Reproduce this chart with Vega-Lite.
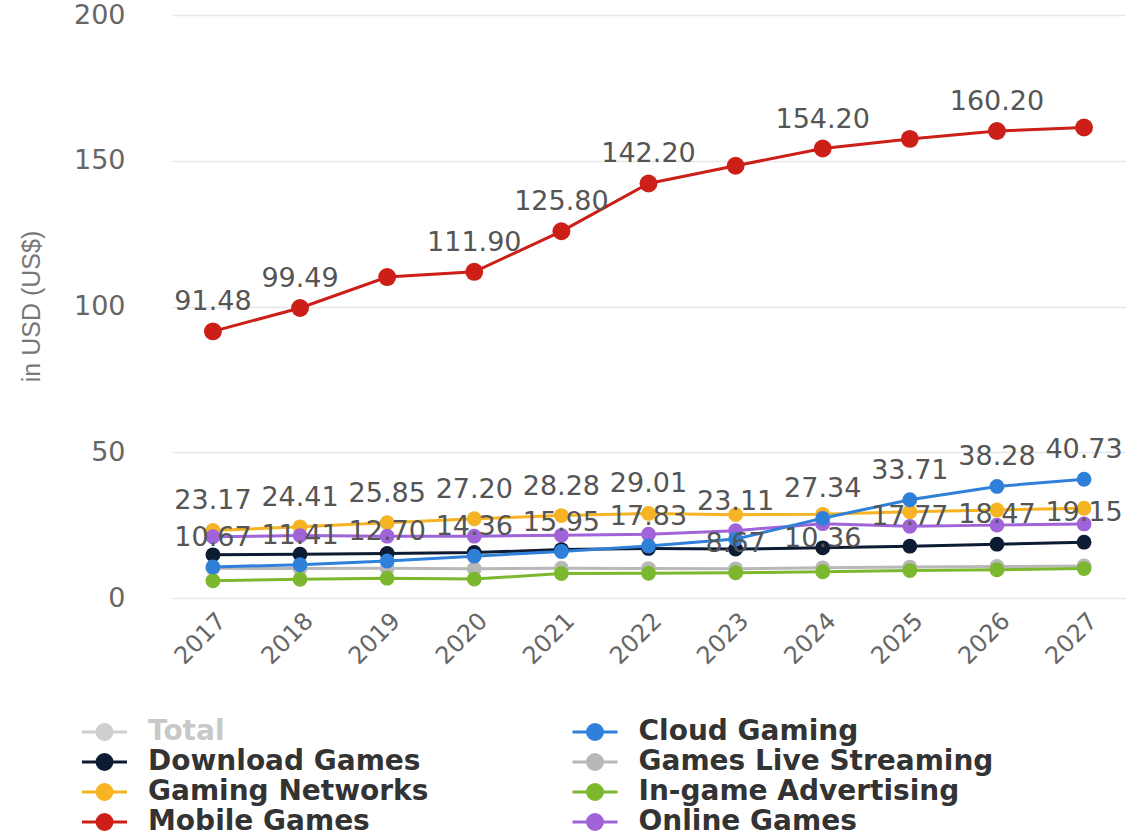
{
  "$schema": "https://vega.github.io/schema/vega-lite/v6.json",
  "width": 953,
  "height": 583,
  "autosize": "none",
  "padding": {"left": 172, "top": 15, "right": 6, "bottom": 241},
  "background": "white",
  "config": {"view": {"stroke": null}, "font": "DejaVu Sans"},
  "data": {"values": [
    {"series": "Mobile Games", "year": 2017, "value": 91.48, "labeled": true},
    {"series": "Mobile Games", "year": 2018, "value": 99.49, "labeled": true},
    {"series": "Mobile Games", "year": 2019, "value": 110.1, "labeled": false},
    {"series": "Mobile Games", "year": 2020, "value": 111.9, "labeled": true},
    {"series": "Mobile Games", "year": 2021, "value": 125.8, "labeled": true},
    {"series": "Mobile Games", "year": 2022, "value": 142.2, "labeled": true},
    {"series": "Mobile Games", "year": 2023, "value": 148.3, "labeled": false},
    {"series": "Mobile Games", "year": 2024, "value": 154.2, "labeled": true},
    {"series": "Mobile Games", "year": 2025, "value": 157.5, "labeled": false},
    {"series": "Mobile Games", "year": 2026, "value": 160.2, "labeled": true},
    {"series": "Mobile Games", "year": 2027, "value": 161.4, "labeled": false},

    {"series": "Gaming Networks", "year": 2017, "value": 23.17, "labeled": true},
    {"series": "Gaming Networks", "year": 2018, "value": 24.41, "labeled": true},
    {"series": "Gaming Networks", "year": 2019, "value": 25.85, "labeled": true},
    {"series": "Gaming Networks", "year": 2020, "value": 27.2, "labeled": true},
    {"series": "Gaming Networks", "year": 2021, "value": 28.28, "labeled": true},
    {"series": "Gaming Networks", "year": 2022, "value": 29.01, "labeled": true},
    {"series": "Gaming Networks", "year": 2023, "value": 28.6, "labeled": false},
    {"series": "Gaming Networks", "year": 2024, "value": 28.7, "labeled": false},
    {"series": "Gaming Networks", "year": 2025, "value": 29.6, "labeled": false},
    {"series": "Gaming Networks", "year": 2026, "value": 30.2, "labeled": false},
    {"series": "Gaming Networks", "year": 2027, "value": 30.8, "labeled": false},

    {"series": "Online Games", "year": 2017, "value": 21.0, "labeled": false},
    {"series": "Online Games", "year": 2018, "value": 21.4, "labeled": false},
    {"series": "Online Games", "year": 2019, "value": 21.2, "labeled": false},
    {"series": "Online Games", "year": 2020, "value": 21.2, "labeled": false},
    {"series": "Online Games", "year": 2021, "value": 21.5, "labeled": false},
    {"series": "Online Games", "year": 2022, "value": 21.9, "labeled": false},
    {"series": "Online Games", "year": 2023, "value": 23.11, "labeled": true},
    {"series": "Online Games", "year": 2024, "value": 25.5, "labeled": false},
    {"series": "Online Games", "year": 2025, "value": 24.6, "labeled": false},
    {"series": "Online Games", "year": 2026, "value": 25.0, "labeled": false},
    {"series": "Online Games", "year": 2027, "value": 25.4, "labeled": false},

    {"series": "Download Games", "year": 2017, "value": 14.8, "labeled": false},
    {"series": "Download Games", "year": 2018, "value": 15.0, "labeled": false},
    {"series": "Download Games", "year": 2019, "value": 15.3, "labeled": false},
    {"series": "Download Games", "year": 2020, "value": 15.6, "labeled": false},
    {"series": "Download Games", "year": 2021, "value": 16.6, "labeled": false},
    {"series": "Download Games", "year": 2022, "value": 17.0, "labeled": false},
    {"series": "Download Games", "year": 2023, "value": 16.8, "labeled": false},
    {"series": "Download Games", "year": 2024, "value": 17.2, "labeled": false},
    {"series": "Download Games", "year": 2025, "value": 17.77, "labeled": true},
    {"series": "Download Games", "year": 2026, "value": 18.47, "labeled": true},
    {"series": "Download Games", "year": 2027, "value": 19.15, "labeled": true},

    {"series": "Games Live Streaming", "year": 2017, "value": 10.2, "labeled": false},
    {"series": "Games Live Streaming", "year": 2018, "value": 10.1, "labeled": false},
    {"series": "Games Live Streaming", "year": 2019, "value": 10.2, "labeled": false},
    {"series": "Games Live Streaming", "year": 2020, "value": 10.0, "labeled": false},
    {"series": "Games Live Streaming", "year": 2021, "value": 10.2, "labeled": false},
    {"series": "Games Live Streaming", "year": 2022, "value": 10.1, "labeled": false},
    {"series": "Games Live Streaming", "year": 2023, "value": 10.0, "labeled": false},
    {"series": "Games Live Streaming", "year": 2024, "value": 10.36, "labeled": true},
    {"series": "Games Live Streaming", "year": 2025, "value": 10.6, "labeled": false},
    {"series": "Games Live Streaming", "year": 2026, "value": 10.8, "labeled": false},
    {"series": "Games Live Streaming", "year": 2027, "value": 11.0, "labeled": false},

    {"series": "In-game Advertising", "year": 2017, "value": 5.9, "labeled": false},
    {"series": "In-game Advertising", "year": 2018, "value": 6.4, "labeled": false},
    {"series": "In-game Advertising", "year": 2019, "value": 6.8, "labeled": false},
    {"series": "In-game Advertising", "year": 2020, "value": 6.5, "labeled": false},
    {"series": "In-game Advertising", "year": 2021, "value": 8.4, "labeled": false},
    {"series": "In-game Advertising", "year": 2022, "value": 8.5, "labeled": false},
    {"series": "In-game Advertising", "year": 2023, "value": 8.67, "labeled": true},
    {"series": "In-game Advertising", "year": 2024, "value": 9.0, "labeled": false},
    {"series": "In-game Advertising", "year": 2025, "value": 9.4, "labeled": false},
    {"series": "In-game Advertising", "year": 2026, "value": 9.7, "labeled": false},
    {"series": "In-game Advertising", "year": 2027, "value": 10.1, "labeled": false},

    {"series": "Cloud Gaming", "year": 2017, "value": 10.67, "labeled": true},
    {"series": "Cloud Gaming", "year": 2018, "value": 11.41, "labeled": true},
    {"series": "Cloud Gaming", "year": 2019, "value": 12.7, "labeled": true},
    {"series": "Cloud Gaming", "year": 2020, "value": 14.36, "labeled": true},
    {"series": "Cloud Gaming", "year": 2021, "value": 15.95, "labeled": true},
    {"series": "Cloud Gaming", "year": 2022, "value": 17.83, "labeled": true},
    {"series": "Cloud Gaming", "year": 2023, "value": 20.2, "labeled": false},
    {"series": "Cloud Gaming", "year": 2024, "value": 27.34, "labeled": true},
    {"series": "Cloud Gaming", "year": 2025, "value": 33.71, "labeled": true},
    {"series": "Cloud Gaming", "year": 2026, "value": 38.28, "labeled": true},
    {"series": "Cloud Gaming", "year": 2027, "value": 40.73, "labeled": true}
  ]},
  "encoding": {
    "x": {
      "field": "year", "type": "ordinal",
      "scale": {"type": "point", "padding": 0.47},
      "axis": {
        "title": null, "labelAngle": -45, "labelAlign": "right", "labelBaseline": "middle",
        "labelFontSize": 24, "labelColor": "#666666", "labelFont": "DejaVu Sans",
        "labelPadding": 19, "labelOffset": 9, "domain": false, "ticks": false, "tickSize": 0, "grid": false
      }
    },
    "y": {
      "field": "value", "type": "quantitative",
      "scale": {"domain": [0, 200], "nice": false},
      "axis": {
        "title": "in USD (US$)", "values": [0, 50, 100, 150, 200],
        "grid": true, "gridColor": "#e6e6e6", "gridWidth": 1.5, "domain": false, "ticks": false, "tickSize": 0,
        "labelPadding": 47, "labelFontSize": 27, "labelColor": "#666666", "labelFont": "DejaVu Sans",
        "titleFont": "Liberation Sans", "titleFontSize": 25, "titleFontWeight": "normal", "titleColor": "#777777",
        "titleX": -141, "titleY": 291, "titleAngle": -90, "titleAlign": "center", "titleBaseline": "middle"
      }
    },
    "color": {
      "field": "series", "type": "nominal",
      "scale": {
        "domain": ["Total", "Cloud Gaming", "Download Games", "Games Live Streaming", "Gaming Networks", "In-game Advertising", "Mobile Games", "Online Games"],
        "range": ["#cfcfcf", "#2f80d8", "#0d1b33", "#b8b8b8", "#f6b324", "#7cb82f", "#cc1f17", "#a064d8"]
      },
      "legend": {
        "orient": "none", "legendX": -81.5, "legendY": 703, "direction": "horizontal", "columns": 2,
        "title": null, "padding": 0, "columnPadding": 137.5, "rowPadding": 2,
        "labelFontSize": 28, "labelFont": "DejaVu Sans", "labelFontWeight": "bold", "labelColor": "#333333",
        "labelOffset": 29.5, "labelLimit": 0,
        "symbolType": "M-2.25,0H2.25M-0.75,0A0.75,0.75,0,1,1,0.75,0A0.75,0.75,0,1,1,-0.75,0Z",
        "symbolSize": 400, "symbolStrokeWidth": 3,
        "encode": {
          "labels": {"update": {"fill": {"signal": "datum.value === 'Total' ? '#c8c8c8' : '#333333'"}}},
          "symbols": {"update": {"fill": {"scale": "color", "field": "value"}, "stroke": {"scale": "color", "field": "value"}, "opacity": {"value": 1}}}
        }
      }
    }
  },
  "layer": [
    {
      "mark": {"type": "line", "strokeWidth": 3},
      "encoding": {
        "strokeWidth": {"condition": {"test": "datum.series === 'Mobile Games'", "value": 4.5}, "value": 3}
      }
    },
    {
      "mark": {"type": "point", "filled": true, "opacity": 1},
      "encoding": {
        "size": {"condition": {"test": "datum.series === 'Mobile Games'", "value": 320}, "value": 220}
      }
    },
    {
      "transform": [{"filter": "datum.labeled"}],
      "mark": {"type": "text", "dy": -29, "fontSize": 27, "font": "DejaVu Sans", "baseline": "middle", "align": "center"},
      "encoding": {
        "text": {"field": "value", "type": "quantitative", "format": ".2f"},
        "color": {"value": "#555555"}
      }
    }
  ]
}
